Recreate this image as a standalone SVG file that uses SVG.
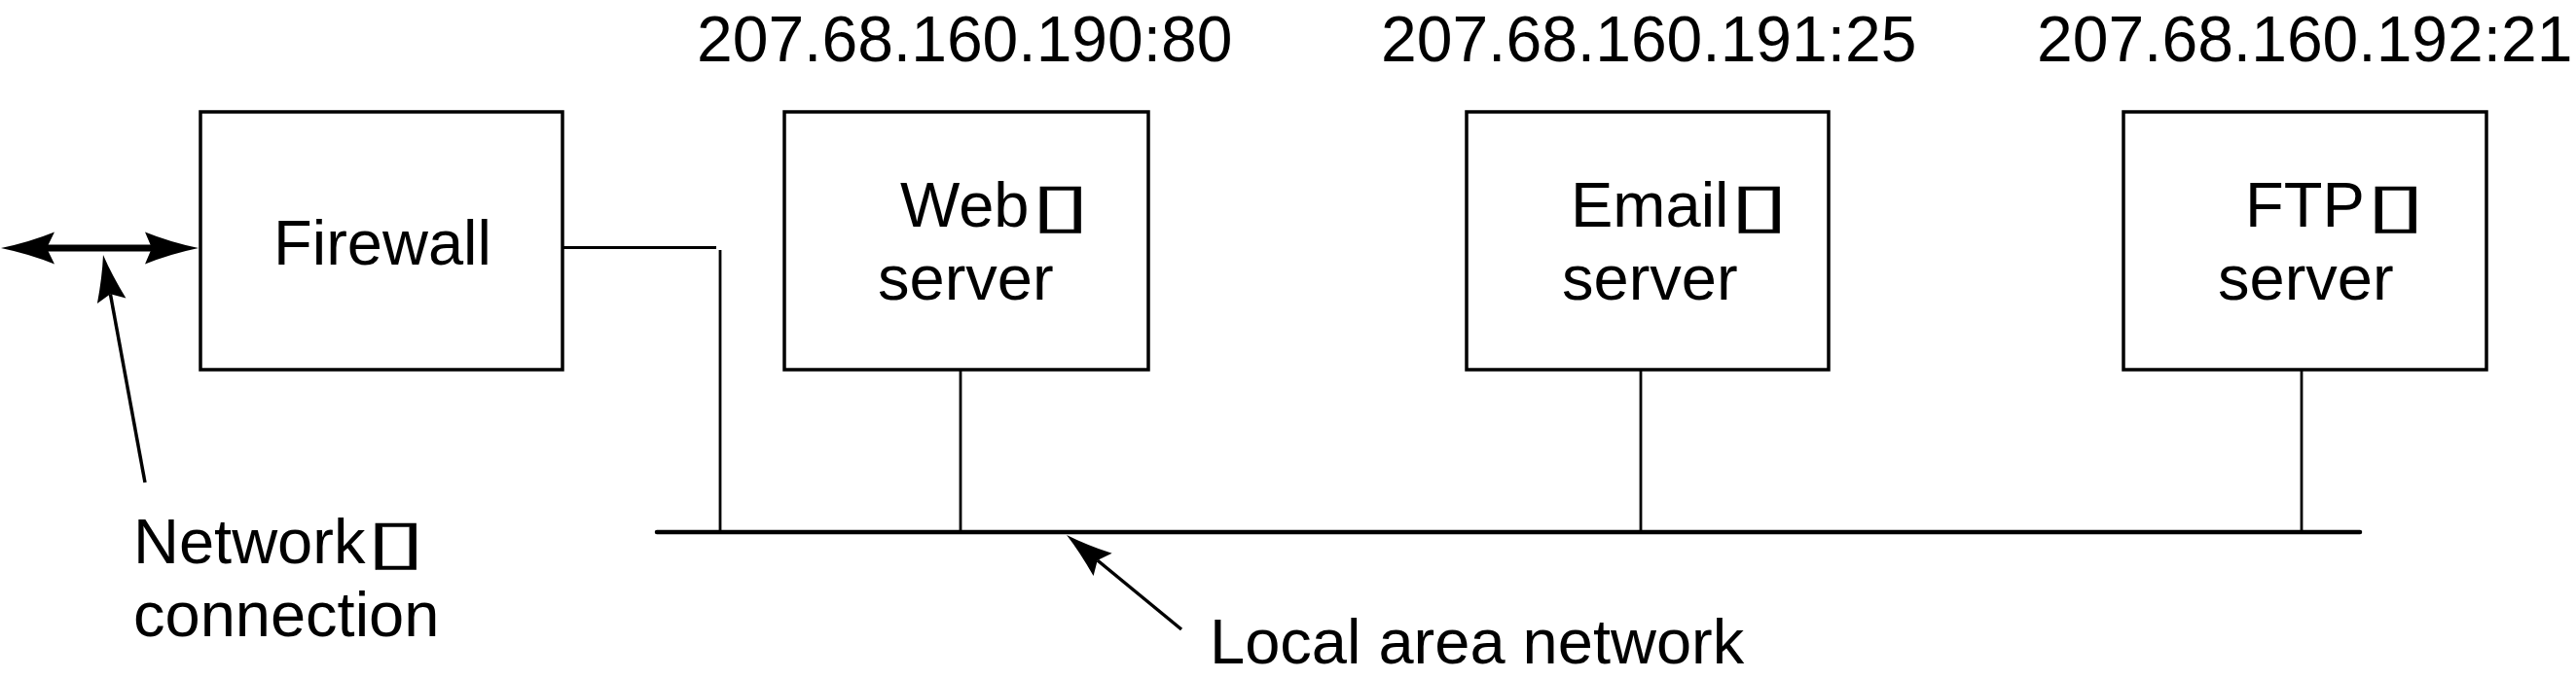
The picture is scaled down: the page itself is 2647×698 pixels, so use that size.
<svg xmlns="http://www.w3.org/2000/svg" width="2647" height="698" viewBox="0 0 2647 698">
<style>
  .box { fill: #fff; stroke: #000; stroke-width: 3.5; }
  .lbl { font-family: "Liberation Sans", Arial, Helvetica, sans-serif; font-size: 65px; fill: #000; }
  .ip { font-family: "Liberation Sans", Arial, Helvetica, sans-serif; font-size: 66px; fill: #000; }
  .tofu { font-family: "DejaVu Sans", sans-serif; font-size: 62px; fill: #000; stroke: #000; stroke-width: 0.6; }
  .ln { stroke: #000; stroke-width: 2.8; fill: none; }
  .lan { stroke: #000; stroke-width: 4.5; fill: none; stroke-linecap: round; }
  .ptr { stroke: #000; stroke-width: 3.5; fill: none; }
  .head { fill: #000; stroke: none; }
</style>
<defs>
  <marker id="ah" markerUnits="userSpaceOnUse" markerWidth="60" markerHeight="40" viewBox="-50 -20 60 40" refX="-41" refY="0" orient="auto">
    <path d="M0,0 Q-22,-5 -48,-15 L-41,0 L-48,15 Q-22,5 0,0 Z" fill="#000"/>
  </marker>
</defs>

<g id="ip-labels">
  <text class="ip" x="716" y="63">207.68.160.190:80</text>
  <text class="ip" x="1419" y="63">207.68.160.191:25</text>
  <text class="ip" x="2093" y="63">207.68.160.192:21</text>
</g>

<g id="connectors">
  <line x1="46" y1="255" x2="158" y2="255" stroke="#000" stroke-width="7"/>
  <path class="head" d="M1,255 Q30,249 56,238.5 L48,255 L56,271.5 Q30,261 1,255 Z"/>
  <path class="head" d="M204,255 Q175,249 149,238.5 L156,255 L149,271.5 Q175,261 204,255 Z"/>
  <line class="ln" x1="578" y1="254.5" x2="736" y2="254.5"/>
  <line class="ln" x1="740" y1="257" x2="740" y2="547"/>
  <line class="lan" x1="675" y1="547" x2="2425" y2="547"/>
  <line class="ln" x1="987" y1="380" x2="987" y2="547"/>
  <line class="ln" x1="1686" y1="380" x2="1686" y2="547"/>
  <line class="ln" x1="2365" y1="380" x2="2365" y2="547"/>
  <line class="ptr" x1="149" y1="496" x2="113.4" y2="302.3" marker-end="url(#ah)"/>
  <line class="ptr" x1="1214" y1="647" x2="1127.7" y2="576" marker-end="url(#ah)"/>
</g>

<g id="firewall">
  <rect class="box" x="206" y="115" width="372" height="265"/>
  <text class="lbl" x="281" y="272">Firewall</text>
</g>

<g id="web-server">
  <rect class="box" x="806" y="115" width="374" height="265"/>
  <text class="lbl" x="925" y="233">Web</text>
  <text class="tofu" transform="translate(1059,232) scale(1.8,1)">▯</text>
  <text class="lbl" x="902" y="308">server</text>
</g>

<g id="email-server">
  <rect class="box" x="1507" y="115" width="372" height="265"/>
  <text class="lbl" x="1614" y="233">Email</text>
  <text class="tofu" transform="translate(1777,232) scale(1.8,1)">▯</text>
  <text class="lbl" x="1605" y="308">server</text>
</g>

<g id="ftp-server">
  <rect class="box" x="2182" y="115" width="373" height="265"/>
  <text class="lbl" x="2307" y="233">FTP</text>
  <text class="tofu" transform="translate(2431,232) scale(1.8,1)">▯</text>
  <text class="lbl" x="2279" y="308">server</text>
</g>

<g id="network-connection-label">
  <text class="lbl" x="137" y="579">Network</text>
  <text class="tofu" transform="translate(376,578) scale(1.8,1)">▯</text>
  <text class="lbl" x="137" y="654">connection</text>
</g>

<g id="lan-label">
  <text class="lbl" x="1243" y="682">Local area network</text>
</g>
</svg>
